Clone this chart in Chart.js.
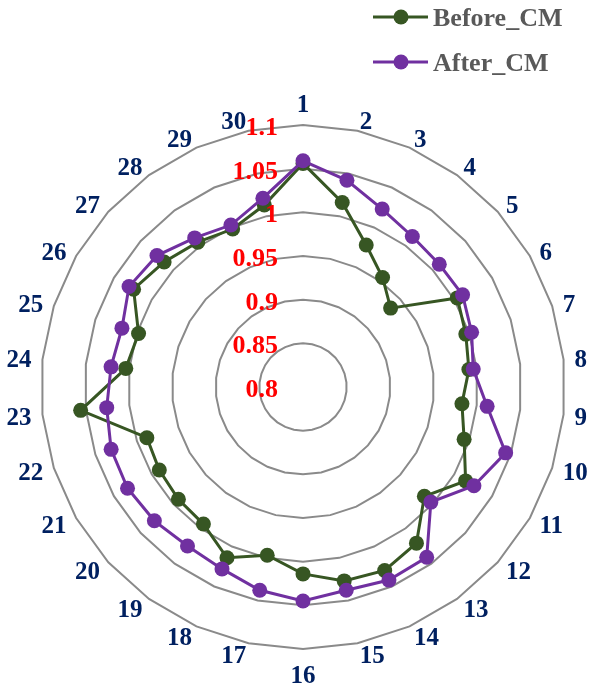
<!DOCTYPE html>
<html>
<head>
<meta charset="utf-8">
<style>
  html, body { margin: 0; padding: 0; background: #fff; overflow: hidden; }
  canvas { display: block; }
</style>
<script src="https://cdn.jsdelivr.net/npm/chart.js@4"></script>
</head>
<body>
<canvas id="radar" width="591" height="688"></canvas>
<script>
// data
const categories = ["1","2","3","4","5","6","7","8","9","10","11","12","13","14","15",
  "16","17","18","19","20","21","22","23","24","25","26","27","28","29","30"];
const beforeCM = [1.056, 1.016, 0.978, 0.955, 0.935, 1.004, 0.996, 0.991, 0.983, 0.994,
  1.015, 0.987, 1.021, 1.030, 1.027, 1.014, 0.997, 1.014, 0.994, 0.992,
  0.990, 0.988, 1.056, 1.004, 0.998, 1.024, 1.014, 1.005, 0.998, 1.013];
const afterCM = [1.059, 1.042, 1.023, 1.013, 1.010, 1.011, 1.003, 0.996, 1.012, 1.044,
  1.026, 0.997, 1.041, 1.042, 1.038, 1.045, 1.038, 1.028, 1.025, 1.029,
  1.032, 1.031, 1.026, 1.021, 1.018, 1.030, 1.025, 1.011, 1.003, 1.021];
const tickValues = [0.8, 0.85, 0.9, 0.95, 1, 1.05, 1.1];
const tickLabels = ["0.8", "0.85", "0.9", "0.95", "1", "1.05", "1.1"];

const GREEN = "#375623";
const PURPLE = "#7030A0";
const SERIF = '"Liberation Serif", "Times New Roman", serif';

// labels around the web + red value labels on the top axis
const labelPlugin = {
  id: "labelPlugin",
  afterDraw(chart) {
    const ctx = chart.ctx;
    const scale = chart.scales.r;
    ctx.save();
    ctx.textBaseline = "alphabetic";

    // category labels
    ctx.font = "bold 25px " + SERIF;
    ctx.fillStyle = "#002060";
    categories.forEach((lab, i) => {
      const p = scale.getPointPosition(i, scale.drawingArea + 11);
      const deg = i * 360 / categories.length;
      let y = p.y + 9;
      if (deg === 0) {
        ctx.textAlign = "center";
        y = p.y - 2;
      } else if (deg === 180) {
        ctx.textAlign = "center";
        y = p.y + 23;
      } else if (deg < 180) {
        ctx.textAlign = "left";
      } else {
        ctx.textAlign = "right";
      }
      ctx.fillText(lab, p.x, y);
    });

    // value labels
    ctx.font = "bold 26px " + SERIF;
    ctx.fillStyle = "#FF0000";
    ctx.textAlign = "right";
    tickValues.forEach((v, i) => {
      const y = scale.yCenter - scale.getDistanceFromCenterForValue(v);
      ctx.fillText(tickLabels[i], scale.xCenter - 25, y + 10);
    });
    ctx.restore();
  }
};

// legend top right: line with a dot, then the name
const legendPlugin = {
  id: "legendPlugin",
  afterDraw(chart) {
    const ctx = chart.ctx;
    const items = [
      { text: "Before_CM", color: GREEN, y: 17 },
      { text: "After_CM", color: PURPLE, y: 62 }
    ];
    ctx.save();
    items.forEach(it => {
      ctx.strokeStyle = it.color;
      ctx.lineWidth = 3;
      ctx.beginPath();
      ctx.moveTo(373, it.y);
      ctx.lineTo(428, it.y);
      ctx.stroke();
      ctx.fillStyle = it.color;
      ctx.beginPath();
      ctx.arc(401, it.y, 7.5, 0, Math.PI * 2);
      ctx.fill();
      ctx.font = "bold 26px " + SERIF;
      ctx.fillStyle = "#595959";
      ctx.textAlign = "left";
      ctx.textBaseline = "alphabetic";
      ctx.fillText(it.text, 433, it.y + 9);
    });
    ctx.restore();
  }
};

new Chart(document.getElementById("radar"), {
  type: "radar",
  data: {
    labels: categories,
    datasets: [
      {
        label: "Before_CM",
        data: beforeCM,
        borderColor: GREEN,
        backgroundColor: GREEN,
        pointBackgroundColor: GREEN,
        pointBorderColor: GREEN,
        borderWidth: 3,
        pointRadius: 7.5,
        pointBorderWidth: 0,
        fill: false,
        order: 1
      },
      {
        label: "After_CM",
        data: afterCM,
        borderColor: PURPLE,
        backgroundColor: PURPLE,
        pointBackgroundColor: PURPLE,
        pointBorderColor: PURPLE,
        borderWidth: 3,
        pointRadius: 7.5,
        pointBorderWidth: 0,
        fill: false,
        order: 0
      }
    ]
  },
  options: {
    responsive: false,
    animation: false,
    layout: { padding: { left: 41, right: 26, top: 125, bottom: 39 } },
    elements: { line: { tension: 0 } },
    plugins: {
      legend: { display: false },
      tooltip: { enabled: false }
    },
    scales: {
      r: {
        min: 0.8,
        max: 1.1,
        beginAtZero: false,
        ticks: { stepSize: 0.05, display: false },
        grid: { circular: false, color: "#8a8a8a", lineWidth: 2 },
        angleLines: { display: false },
        pointLabels: { display: false }
      }
    }
  },
  plugins: [labelPlugin, legendPlugin]
});
</script>
</body>
</html>
